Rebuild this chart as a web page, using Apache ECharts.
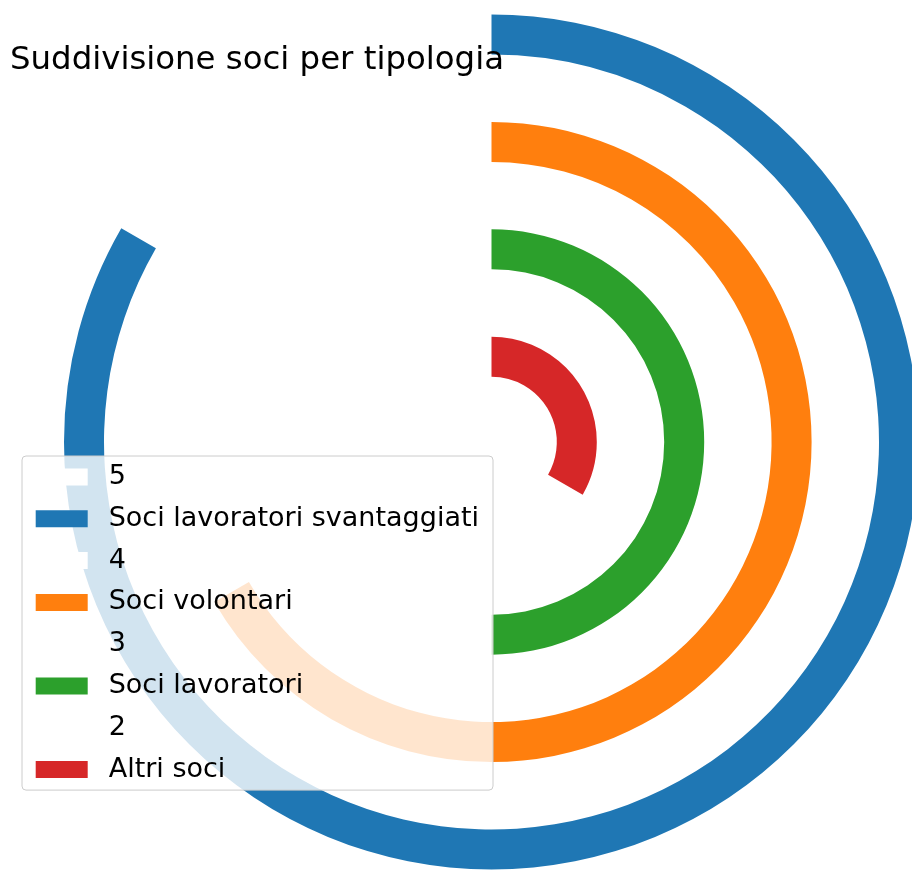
<!DOCTYPE html>
<html>
<head>
<meta charset="utf-8">
<script src="https://cdn.jsdelivr.net/npm/echarts@6/dist/echarts.min.js"></script>
<style>
  html, body { margin: 0; padding: 0; background: #fff; }
  #chart { width: 912px; height: 870px; }
</style>
</head>
<body>
<div id="chart"></div>
<script>
// categories from the inner ring to the outer one
const categories = ['Altri soci', 'Soci lavoratori', 'Soci volontari', 'Soci lavoratori svantaggiati'];
const values = [2, 3, 4, 5];
const colors = ['#d62728', '#2ca02c', '#ff7f0e', '#1f77b4'];
const angleMax = 6;

const chart = echarts.init(document.getElementById('chart'));
const font = 'DejaVu Sans';

const series = [];
const legendOrder = [];
for (let i = categories.length - 1; i >= 0; i--) {
  // white entry with the value, as in the original legend
  legendOrder.push(String(values[i]));
  legendOrder.push(categories[i]);
}
categories.forEach((name, i) => {
  series.push({
    name: name,
    type: 'bar',
    coordinateSystem: 'polar',
    stack: 'rings',
    barWidth: 40,
    data: values.map((v, j) => (j === i ? v : null)),
    itemStyle: { color: colors[i] },
    silent: true,
    z: 2
  });
  series.push({
    name: String(values[i]),
    type: 'bar',
    coordinateSystem: 'polar',
    stack: 'rings',
    barWidth: 40,
    data: [],
    itemStyle: { color: '#ffffff', borderWidth: 0 },
    silent: true
  });
});

const option = {
  animation: false,
  title: {
    text: 'Suddivisione soci per tipologia',
    left: 10,
    top: 45,
    padding: 0,
    textStyle: { fontFamily: font, fontSize: 32.4, fontWeight: 'normal', color: '#000' }
  },
  polar: {
    center: [491.5, 442],
    radius: [31.6, 461.2]
  },
  angleAxis: {
    type: 'value',
    min: 0,
    max: angleMax,
    startAngle: 90,
    clockwise: true,
    show: false
  },
  radiusAxis: {
    type: 'category',
    data: categories,
    show: false
  },
  legend: {
    orient: 'vertical',
    left: 22,
    top: 456,
    data: legendOrder,
    selectedMode: false,
    icon: 'rect',
    itemWidth: 52,
    itemHeight: 17,
    itemGap: 14.8,
    padding: [7.5, 14, 7, 13.7],
    backgroundColor: 'rgba(255,255,255,0.8)',
    borderColor: '#cccccc',
    borderWidth: 1,
    borderRadius: 4,
    textStyle: {
      fontFamily: font,
      fontSize: 27,
      lineHeight: 27,
      color: '#000',
      padding: [0, 0, 0, 16]
    }
  },
  series: series
};

chart.setOption(option);
</script>
</body>
</html>
